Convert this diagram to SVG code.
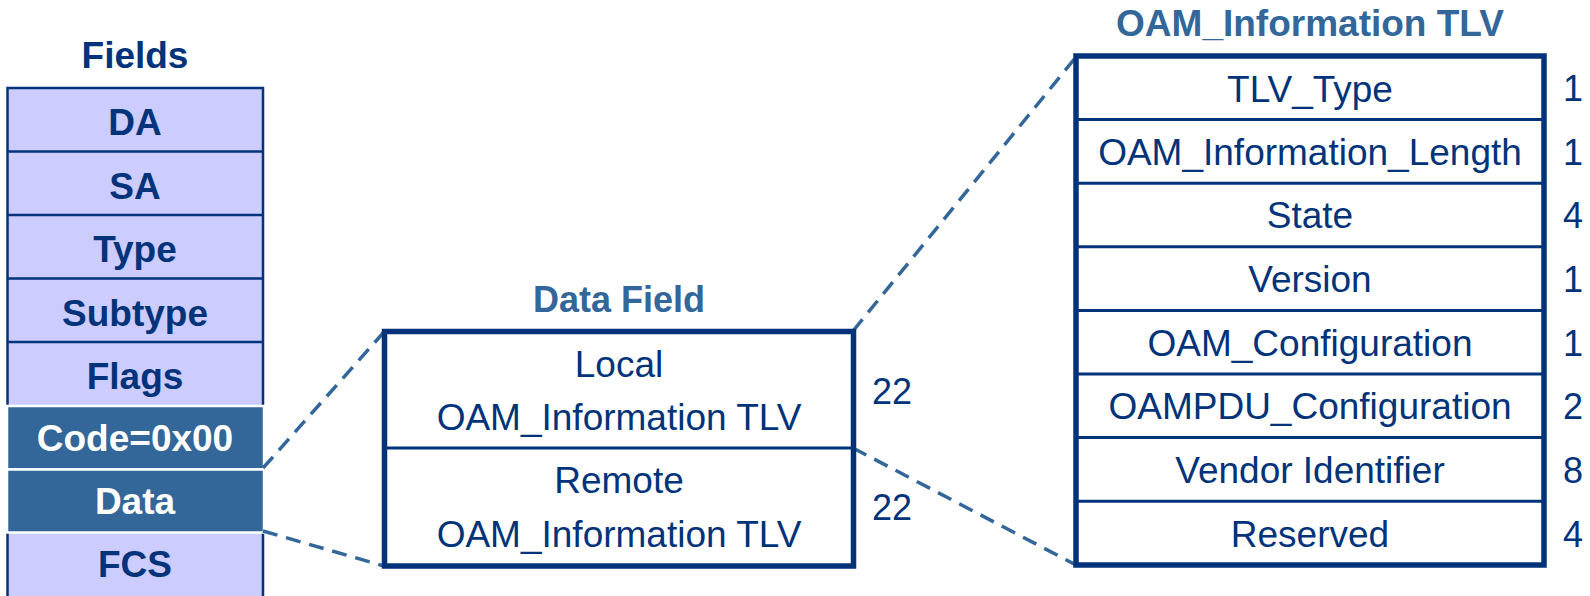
<svg xmlns="http://www.w3.org/2000/svg" width="1590" height="596" viewBox="0 0 1590 596">
<style>
  .t { font-family: "Liberation Sans", Arial, sans-serif; fill: #00337A; }
  .b { font-weight: bold; font-size: 37px; text-anchor: middle; }
  .r { font-size: 37px; text-anchor: middle; }
  .n { font-size: 36px; }
  .title { font-family: "Liberation Sans", Arial, sans-serif; font-weight: bold; font-size: 36px; fill: #336699; text-anchor: middle; }
  .light { fill: #CCCCFF; stroke: #00337A; stroke-width: 2.5; }
  .dark { fill: #336699; stroke: #FFFFFF; stroke-width: 2.5; }
  .w { fill: #FFFFFF; }
  .box { fill: #FFFFFF; stroke: #00337A; stroke-width: 5.5; }
  .sep { stroke: #00337A; stroke-width: 3; }
  .thin { stroke: #00337A; stroke-width: 2.5; }
  .dash { stroke: #336699; stroke-width: 3.5; stroke-dasharray: 15 9; fill: none; }
</style>

<g id="fields">
  <text class="t b" x="135" y="68">Fields</text>
  <rect class="light" x="7.5" y="88" width="255.5" height="520"/>
  <line class="thin" x1="7.5" y1="151.5" x2="263" y2="151.5"/>
  <line class="thin" x1="7.5" y1="215" x2="263" y2="215"/>
  <line class="thin" x1="7.5" y1="278.5" x2="263" y2="278.5"/>
  <line class="thin" x1="7.5" y1="342" x2="263" y2="342"/>
  <rect class="dark" x="7" y="406" width="257" height="63.5"/>
  <rect class="dark" x="7" y="469.5" width="257" height="63"/>
  <text class="t b" x="135" y="135">DA</text>
  <text class="t b" x="135" y="198.5">SA</text>
  <text class="t b" x="135" y="262">Type</text>
  <text class="t b" x="135" y="325.5">Subtype</text>
  <text class="t b" x="135" y="389">Flags</text>
  <text class="t b w" x="135" y="451">Code=0x00</text>
  <text class="t b w" x="135" y="514">Data</text>
  <text class="t b" x="135" y="577">FCS</text>
</g>

<g id="connectors">
  <line class="dash" x1="263" y1="468" x2="384" y2="332"/>
  <line class="dash" x1="263" y1="531" x2="384" y2="566"/>
  <line class="dash" x1="853" y1="331" x2="1076" y2="57"/>
  <line class="dash" x1="853" y1="448" x2="1076" y2="565"/>
</g>

<g id="data-field">
  <text class="title" x="619" y="312">Data Field</text>
  <rect class="box" x="384.5" y="331.5" width="469" height="234.5"/>
  <line class="sep" x1="384.5" y1="448" x2="853.5" y2="448"/>
  <text class="t r" x="619" y="377">Local</text>
  <text class="t r" x="619" y="430">OAM_Information TLV</text>
  <text class="t r" x="619" y="493">Remote</text>
  <text class="t r" x="619" y="547">OAM_Information TLV</text>
  <text class="t n" x="872" y="404">22</text>
  <text class="t n" x="872" y="520">22</text>
</g>

<g id="oam-information-tlv">
  <text class="title" x="1310" y="36" style="font-size:37px">OAM_Information TLV</text>
  <rect class="box" x="1076" y="56" width="468" height="509"/>
  <line class="sep" x1="1076" y1="119.6" x2="1544" y2="119.6"/>
  <line class="sep" x1="1076" y1="183.2" x2="1544" y2="183.2"/>
  <line class="sep" x1="1076" y1="246.8" x2="1544" y2="246.8"/>
  <line class="sep" x1="1076" y1="310.4" x2="1544" y2="310.4"/>
  <line class="sep" x1="1076" y1="374" x2="1544" y2="374"/>
  <line class="sep" x1="1076" y1="437.6" x2="1544" y2="437.6"/>
  <line class="sep" x1="1076" y1="501.2" x2="1544" y2="501.2"/>
  <text class="t r" x="1310" y="102">TLV_Type</text>
  <text class="t r" x="1310" y="165">OAM_Information_Length</text>
  <text class="t r" x="1310" y="228">State</text>
  <text class="t r" x="1310" y="292">Version</text>
  <text class="t r" x="1310" y="356">OAM_Configuration</text>
  <text class="t r" x="1310" y="419">OAMPDU_Configuration</text>
  <text class="t r" x="1310" y="483">Vendor Identifier</text>
  <text class="t r" x="1310" y="547">Reserved</text>
  <text class="t n" x="1563" y="101">1</text>
  <text class="t n" x="1563" y="165">1</text>
  <text class="t n" x="1563" y="228">4</text>
  <text class="t n" x="1563" y="292">1</text>
  <text class="t n" x="1563" y="356">1</text>
  <text class="t n" x="1563" y="419">2</text>
  <text class="t n" x="1563" y="483">8</text>
  <text class="t n" x="1563" y="547">4</text>
</g>
</svg>
